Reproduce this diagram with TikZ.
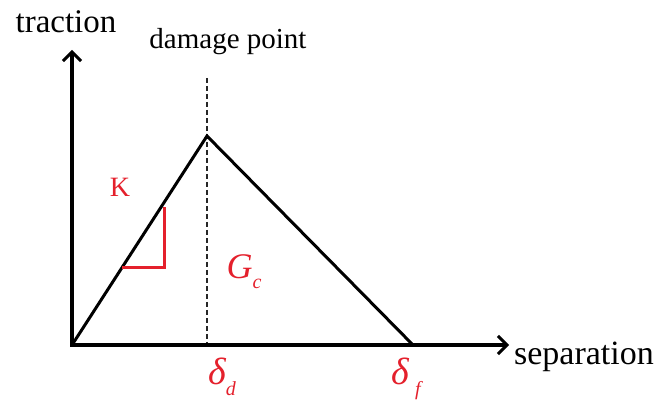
\documentclass[tikz,border=0pt]{standalone}
\usepackage{fontspec}
\setmainfont{Liberation Serif}
\usetikzlibrary{arrows.meta}
\definecolor{myred}{RGB}{228,32,44}
\newcommand{\subsc}[1]{\raisebox{-0.28em}{\fontsize{20}{22}\selectfont\itshape #1}}
\begin{document}
\begin{tikzpicture}[x=1pt,y=-1pt,
  axis/.style={line width=4pt,-{Straight Barb[length=9pt,width=18pt,line width=3pt]}},
  curve/.style={line width=3pt,line join=miter},
  lbl/.style={inner sep=0pt,font=\fontsize{33}{38}\selectfont},
  redlbl/.style={inner sep=0pt,text=myred},
]
\useasboundingbox (0,0) rectangle (654,403);
\coordinate (O) at (72,345);
\coordinate (Ytop) at (72,50);
\coordinate (Xend) at (509,345);
\coordinate (P) at (207,136);
\coordinate (F) at (413,345);
\coordinate (Dtop) at (207,78);
\coordinate (Dbot) at (207,345);
\coordinate (R1) at (122,268);
\coordinate (R2) at (164,268);
\coordinate (R3) at (164,207);
\draw[line width=1.6pt,dash pattern=on 5pt off 3pt,black!85] (Dtop) -- (Dbot);
\draw[curve] (O) -- (P) -- (F);
\draw[myred,line width=3pt,line join=miter] (R1) -- (R2) -- (R3);
\draw[axis] (O) -- (Ytop);
\draw[axis] ([xshift=-2pt]O) -- (Xend);
\node[lbl] (traction) at (66,22) {traction};
\node[lbl,font=\fontsize{29}{34}\selectfont] (damage) at (228,42) {damage point};
\node[lbl,font=\fontsize{34}{40}\selectfont] (separation) at (584,357) {separation};
\node[redlbl,font=\fontsize{28}{32}\selectfont] (K) at (120,187) {K};
\node[redlbl,font=\fontsize{36}{40}\selectfont\itshape] (Gc) at (244,272) {G\subsc{c}};
\node[redlbl,font=\fontsize{38}{42}\selectfont\itshape] (dd) at (222,377) {δ\subsc{d}};
\node[redlbl,font=\fontsize{38}{42}\selectfont\itshape] (df) at (406,379) {δ\,\subsc{f}};
\end{tikzpicture}
\end{document}
